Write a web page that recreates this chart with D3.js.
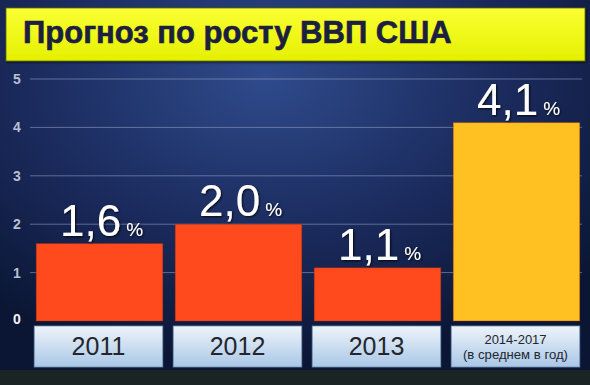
<!DOCTYPE html>
<html>
<head>
<meta charset="utf-8">
<script src="https://cdn.jsdelivr.net/npm/d3@7"></script>
<style>
  html, body { margin: 0; padding: 0; background: #0c1630; }
  svg { display: block; }
</style>
</head>
<body>
<div id="chart"></div>
<script>
const categories = ["2011", "2012", "2013", "2014-2017"];
const categoryLines = [["2011"], ["2012"], ["2013"], ["2014-2017", "(в среднем в год)"]];
const values = [1.6, 2.0, 1.1, 4.1];
const valueLabels = ["1,6", "2,0", "1,1", "4,1"];
const barColors = ["#ff4a1e", "#ff4a1e", "#ff4a1e", "#ffc022"];
const yTicks = [0, 1, 2, 3, 4, 5];
const title = "Прогноз по росту ВВП США";

const width = 590, height = 385;

const svg = d3.select("#chart").append("svg")
    .attr("width", width)
    .attr("height", height);

const defs = svg.append("defs");

// background glow
const bg = defs.append("radialGradient")
    .attr("id", "bgGrad")
    .attr("cx", "45%").attr("cy", "20%").attr("r", "75%");
bg.append("stop").attr("offset", "0%").attr("stop-color", "#2f4b8c");
bg.append("stop").attr("offset", "55%").attr("stop-color", "#1a2a5c");
bg.append("stop").attr("offset", "100%").attr("stop-color", "#0b1634");

const titleGrad = defs.append("linearGradient")
    .attr("id", "titleGrad").attr("x1", 0).attr("y1", 0).attr("x2", 0).attr("y2", 1);
titleGrad.append("stop").attr("offset", "0%").attr("stop-color", "#fbff33");
titleGrad.append("stop").attr("offset", "100%").attr("stop-color", "#e4f000");

const boxGrad = defs.append("linearGradient")
    .attr("id", "boxGrad").attr("x1", 0).attr("y1", 0).attr("x2", 0).attr("y2", 1);
boxGrad.append("stop").attr("offset", "0%").attr("stop-color", "#eef4fa");
boxGrad.append("stop").attr("offset", "100%").attr("stop-color", "#a9c7e6");

const shadow = defs.append("filter").attr("id", "shadow")
    .attr("x", "-20%").attr("y", "-20%").attr("width", "140%").attr("height", "140%");
shadow.append("feDropShadow")
    .attr("dx", 1).attr("dy", 1).attr("stdDeviation", 1.2)
    .attr("flood-color", "#000").attr("flood-opacity", 0.8);

svg.append("rect")
    .attr("width", width).attr("height", height)
    .attr("fill", "url(#bgGrad)");

// dark strip at bottom
svg.append("rect")
    .attr("x", 0).attr("y", 370).attr("width", width).attr("height", 15)
    .attr("fill", "#1b2424");

// title bar
svg.append("rect")
    .attr("x", 6).attr("y", 8).attr("width", 579).attr("height", 53)
    .attr("fill", "url(#titleGrad)")
    .attr("stroke", "#5a6a10").attr("stroke-width", 0.8)
    .attr("filter", "url(#shadow)");

svg.append("text")
    .attr("x", 23).attr("y", 43)
    .attr("font-family", "Liberation Sans, Arial, sans-serif")
    .attr("font-weight", "bold")
    .attr("font-size", 31)
    .attr("fill", "#1b2040")
    .attr("stroke", "#1b2040").attr("stroke-width", 0.6)
    .text(title);

const x = d3.scaleBand()
    .domain(categories)
    .range([29, 585])
    .paddingInner(0.075)
    .paddingOuter(0.0375);

const y = d3.scaleLinear()
    .domain([0, 5])
    .range([321, 79]);

// grid lines
svg.append("g")
    .selectAll("line")
    .data(yTicks.filter(d => d > 0))
    .enter().append("line")
    .attr("x1", 30).attr("x2", 582)
    .attr("y1", d => y(d)).attr("y2", d => y(d))
    .attr("stroke", "#9aa6c8").attr("stroke-opacity", 0.55)
    .attr("stroke-width", 1);

// y tick labels
svg.append("g")
    .selectAll("text")
    .data(yTicks)
    .enter().append("text")
    .attr("x", 17)
    .attr("y", d => y(d) + (d === 0 ? 3 : 5))
    .attr("text-anchor", "middle")
    .attr("font-family", "Liberation Sans, Arial, sans-serif")
    .attr("font-weight", "bold")
    .attr("font-size", 14)
    .attr("fill", d => d === 0 ? "#f2f4f8" : "#b8bfd2")
    .text(d => d);

// bars
svg.append("g")
    .selectAll("rect")
    .data(values)
    .enter().append("rect")
    .attr("x", (d, i) => x(categories[i]) + 2)
    .attr("width", x.bandwidth() - 2)
    .attr("y", d => y(d))
    .attr("height", d => y(0) - y(d))
    .attr("fill", (d, i) => barColors[i])
    .attr("stroke", "#9a2a10").attr("stroke-opacity", 0.4).attr("stroke-width", 1);

// value labels
const labels = svg.append("g")
    .selectAll("text")
    .data(values)
    .enter().append("text")
    .attr("x", (d, i) => x(categories[i]) + x.bandwidth() / 2 + 3)
    .attr("y", d => y(d) - 8)
    .attr("text-anchor", "middle")
    .attr("font-family", "Liberation Sans, Arial, sans-serif")
    .attr("fill", "#ffffff")
    .attr("filter", "url(#shadow)");

labels.append("tspan")
    .attr("font-size", 44)
    .text((d, i) => valueLabels[i]);
labels.append("tspan")
    .attr("font-size", 19)
    .attr("dx", 5)
    .text("%");

// category boxes
const boxes = svg.append("g")
    .selectAll("g")
    .data(categories)
    .enter().append("g");

boxes.append("rect")
    .attr("x", d => x(d))
    .attr("y", 326)
    .attr("width", x.bandwidth())
    .attr("height", 41)
    .attr("fill", "url(#boxGrad)")
    .attr("stroke", "#6f8fb4").attr("stroke-width", 0.8);

boxes.append("text")
    .attr("text-anchor", "middle")
    .attr("font-family", "Liberation Sans, Arial, sans-serif")
    .attr("fill", "#23262e")
    .each(function (d, i) {
        const lines = categoryLines[i];
        const t = d3.select(this);
        const cx = x(d) + x.bandwidth() / 2;
        if (lines.length === 1) {
            t.append("tspan").attr("x", cx).attr("y", 355)
                .attr("font-size", 25).text(lines[0]);
        } else {
            t.append("tspan").attr("x", cx).attr("y", 344)
                .attr("font-size", 13).text(lines[0]);
            t.append("tspan").attr("x", cx).attr("y", 359)
                .attr("font-size", 13).attr("textLength", 105)
                .attr("lengthAdjust", "spacingAndGlyphs").text(lines[1]);
        }
    });
</script>
</body>
</html>
